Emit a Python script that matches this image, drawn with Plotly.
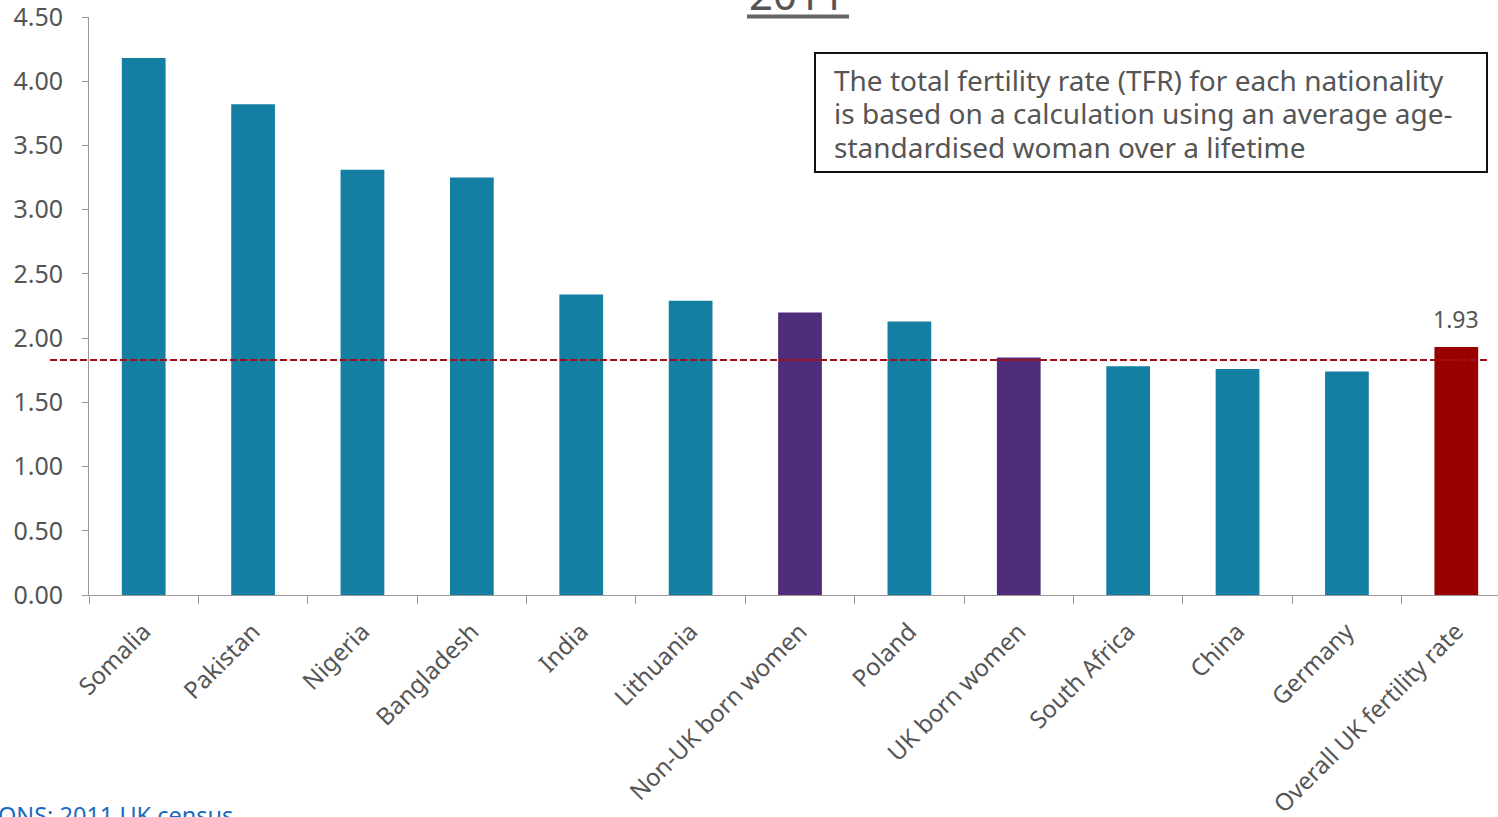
import plotly.graph_objects as go

categories = ["Somalia", "Pakistan", "Nigeria", "Bangladesh", "India", "Lithuania",
              "Non-UK born women", "Poland", "UK born women", "South Africa", "China",
              "Germany", "Overall UK fertility rate"]
tfr = [4.18, 3.82, 3.31, 3.25, 2.34, 2.29, 2.20, 2.13, 1.85, 1.78, 1.76, 1.74, 1.93]
bar_colors = ["#147FA2"] * 6 + ["#4E2D7A", "#147FA2", "#4E2D7A", "#147FA2", "#147FA2", "#147FA2", "#990000"]
reference_line = 1.83
y_ticks = [0, 0.5, 1, 1.5, 2, 2.5, 3, 3.5, 4, 4.5]
y_tick_labels = ["%.2f" % v for v in y_ticks]
note_lines = ["The total fertility rate (TFR) for each nationality",
              "is based on a calculation using an average age-",
              "standardised woman over a lifetime"]

W, H = 1498, 817
ml, mr, mt, mb = 89, 0, 17, 222
pw = W - ml - mr
ph = H - mt - mb

def px_x(p):
    return (p - ml) / pw

def px_y(p):
    return (H - mb - p) / ph

FONT = "Noto Sans"
GREY = "#555555"

fig = go.Figure()
fig.add_trace(go.Bar(x=categories, y=tfr, marker=dict(color=bar_colors, line=dict(width=0)),
                     width=0.4, showlegend=False, hoverinfo="x+y"))

fig.add_shape(type="line", xref="paper", yref="y", x0=px_x(50), x1=px_x(1488),
              y0=reference_line, y1=reference_line,
              line=dict(color="#A0101A", width=2, dash="7px,3px"))

fig.add_annotation(x=categories[-1], y=tfr[-1], xref="x", yref="y", text="%.2f" % tfr[-1],
                   showarrow=False, yanchor="bottom", yshift=10,
                   font=dict(family=FONT, size=23, color=GREY))

fig.add_annotation(xref="paper", yref="paper", x=px_x(797), y=px_y(24), text="2011",
                   showarrow=False, xanchor="center", yanchor="bottom",
                   font=dict(family=FONT, size=42, color=GREY))
fig.add_shape(type="line", xref="paper", yref="paper", x0=px_x(747), x1=px_x(849),
              y0=px_y(16.5), y1=px_y(16.5), line=dict(color="#666666", width=4))

fig.add_shape(type="rect", xref="paper", yref="paper", x0=px_x(815), x1=px_x(1487),
              y0=px_y(53), y1=px_y(172), line=dict(color="#111111", width=2),
              fillcolor="rgba(0,0,0,0)")
for i, line in enumerate(note_lines):
    fig.add_annotation(xref="paper", yref="paper", x=px_x(833), y=px_y(80 + 33.5 * i),
                       text=line, showarrow=False, xanchor="left", yanchor="middle", align="left",
                       borderpad=0,
                       font=dict(family=FONT, size=28, color=GREY))

fig.add_annotation(xref="paper", yref="paper", x=px_x(-4), y=px_y(797),
                   text="ONS: 2011 UK census", showarrow=False, xanchor="left", yanchor="top",
                   font=dict(family=FONT, size=23.5, color="#1A6BC0"))

fig.update_layout(
    width=W, height=H,
    margin=dict(l=ml, r=mr, t=mt, b=mb, pad=0),
    plot_bgcolor="white", paper_bgcolor="white",
    bargap=0.6,
    font=dict(family=FONT, size=22, color=GREY),
    xaxis=dict(range=[-0.5, 12.5 - 13/109.4], showline=True, linecolor="#999999", linewidth=1,
               ticks="outside", tickson="boundaries", ticklen=8, tickcolor="#999999",
               tickangle=-45, tickfont=dict(family=FONT, size=24, color=GREY),
               ticklabelstandoff=12, automargin=False,
               showgrid=False, zeroline=False),
    yaxis=dict(range=[0, 4.5], tickvals=y_ticks, ticktext=y_tick_labels, showline=True,
               linecolor="#999999", linewidth=1, ticks="outside", ticklen=6, tickcolor="#999999",
               showgrid=False, zeroline=False, ticklabeloverflow="allow",
               ticklabelstandoff=14, automargin=False,
               tickfont=dict(family=FONT, size=25, color=GREY)),
)

fig.write_html("out.html", config={"displayModeBar": False},
               post_script="document.body.style.margin='0';document.body.style.overflow='hidden';")
